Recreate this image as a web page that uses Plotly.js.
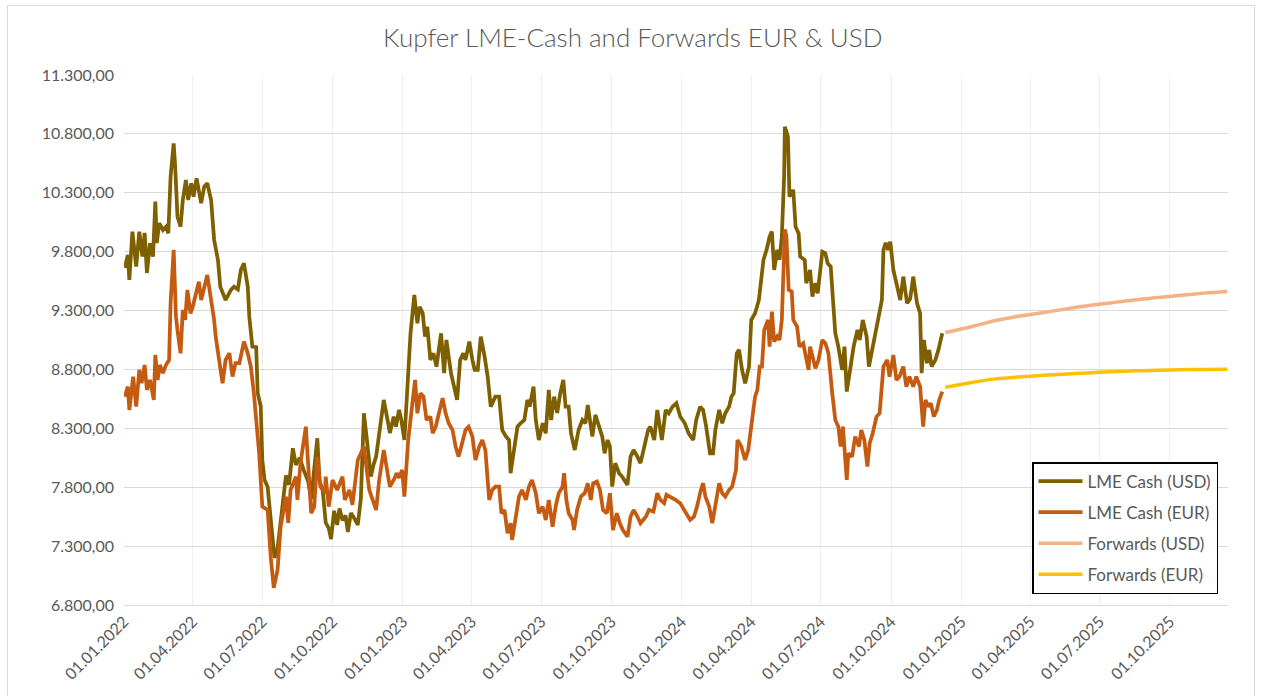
<!DOCTYPE html>
<html>
<head>
<meta charset="utf-8">
<script src="https://cdn.plot.ly/plotly-3.0.1.min.js"></script>
<style>
  html, body { margin: 0; padding: 0; background: #ffffff; }
  #frame { position: absolute; left: 7px; top: 5px; width: 1248px; height: 700px; border: 1px solid #d9d9d9; box-sizing: border-box; }
  #chart { position: absolute; left: 0; top: 0; width: 1263px; height: 696px; }
</style>
</head>
<body>
<div id="frame"></div>
<div id="chart"></div>
<script>
// ---- Data ----
// Day offsets are days since 01.01.2022
const usdDays = [1,5,7,11,16,20,24,27,30,34,38,41,43,46,51,55,58,61,65,67,70,74,77,81,84,88,91,95,101,105,109,114,118,123,126,133,140,144,149,153,157,162,164,168,173,175,179,181,184,188,190,194,197,201,208,212,216,221,225,230,235,241,245,249,253,256,260,264,268,271,275,279,282,286,290,293,297,302,306,310,314,318,323,327,330,335,340,345,348,353,356,360,363,367,371,375,380,384,387,391,394,397,401,405,409,415,419,422,428,432,436,440,444,447,452,456,459,463,467,472,476,480,486,491,495,500,504,506,510,515,519,524,528,531,536,539,543,548,552,556,559,563,567,571,575,578,582,585,590,595,600,604,607,613,617,622,626,629,633,636,639,643,648,652,659,663,667,672,676,680,686,689,694,698,701,704,709,713,718,723,728,734,739,745,749,754,758,762,767,771,774,779,783,787,792,795,798,802,805,809,813,818,821,826,831,837,841,845,848,851,855,858,861,864,865,869,871,876,879,883,885,891,893,898,901,905,908,914,918,921,925,929,931,935,940,943,946,951,955,960,963,967,972,975,979,983,988,992,994,997,1000,1003,1007,1012,1016,1020,1025,1029,1033,1038,1042,1044,1047,1051,1054,1057,1062,1066,1071];
const usdCash = [9662,9772,9560,9970,9673,9970,9758,9960,9619,9871,9758,10225,9874,10041,9984,10012,9956,10437,10720,10522,10097,10012,10239,10409,10239,10381,10267,10423,10211,10352,10381,10239,9899,9729,9503,9390,9475,9503,9480,9645,9701,9503,9248,8994,8990,8600,8484,8032,7862,7805,7666,7353,7200,7280,7700,7900,7820,8131,7990,8050,7950,7850,7700,7950,8216,7850,7780,7500,7450,7360,7600,7480,7620,7520,7560,7420,7580,7530,7480,7700,8428,8200,7890,8000,8060,8300,8541,8370,8260,8400,8314,8456,8370,8201,8711,9107,9432,9192,9333,9277,9079,9163,8881,8937,8824,9107,8768,9050,8768,8654,8541,8881,8937,8881,9036,8881,8796,8796,9079,8909,8739,8484,8569,8569,8286,8230,8201,7919,8088,8314,8343,8371,8541,8484,8654,8370,8201,8343,8258,8626,8370,8569,8430,8598,8711,8484,8484,8258,8116,8286,8371,8343,8498,8230,8414,8314,8230,8088,8201,8145,7805,8004,7919,7890,7820,8060,8116,8060,8004,8116,8286,8314,8201,8456,8314,8201,8456,8428,8484,8513,8400,8343,8258,8201,8371,8484,8456,8314,8088,8088,8286,8456,8343,8428,8484,8569,8598,8937,8966,8796,8683,8824,9220,9277,9390,9730,9815,9927,9970,9645,9815,9730,9927,10437,10861,10777,10267,10324,10012,9956,9758,9730,9532,9645,9418,9532,9447,9800,9786,9701,9673,9220,9107,8994,8796,8994,8612,8824,8994,9135,9050,9220,9079,8824,8966,9107,9277,9390,9815,9874,9815,9885,9645,9503,9390,9588,9362,9400,9588,9362,9277,8768,9050,8853,8966,8824,8881,8966,9107];

const eurDays = [1,5,7,12,16,20,23,27,30,34,39,41,44,47,51,55,59,61,65,68,70,74,77,80,83,87,90,94,98,101,105,109,114,118,120,125,129,133,138,142,146,151,157,162,166,170,173,177,181,188,192,196,201,205,212,215,218,225,227,231,238,241,245,249,253,257,263,264,268,273,279,286,289,295,299,306,314,321,330,334,340,345,348,353,357,360,364,367,372,376,381,384,388,392,396,401,404,408,412,417,421,425,430,434,438,443,447,451,456,460,465,469,473,478,482,486,491,494,498,502,506,508,513,517,521,526,530,534,539,543,548,552,556,561,565,569,574,576,579,582,587,589,593,598,603,607,611,614,619,623,627,632,636,640,645,649,653,659,663,667,672,676,683,687,693,698,702,707,710,715,722,728,735,741,746,750,755,758,761,766,770,774,779,783,787,792,796,801,803,808,813,817,821,824,826,829,832,835,838,843,845,848,851,855,858,861,865,867,870,874,876,881,884,889,892,896,898,902,905,909,914,918,922,927,931,935,938,941,946,948,953,957,962,965,969,973,976,980,985,989,994,999,1002,1007,1011,1015,1020,1024,1028,1033,1037,1042,1046,1049,1053,1056,1060,1064,1067,1071];
const eurCash = [8569,8654,8456,8739,8484,8796,8683,8838,8626,8711,8541,8923,8711,8838,8768,8838,8881,9362,9815,9248,9135,8937,9305,9220,9475,9277,9333,9447,9545,9390,9503,9602,9390,9220,9079,8881,8683,8881,8937,8739,8853,8853,9036,8937,8824,8598,8399,8080,7635,7607,7210,6945,7098,7465,7720,7497,7777,7890,7692,8004,8314,8004,7580,7635,8060,7805,7750,7890,7635,7862,7777,7890,7692,7777,7650,8032,8145,7777,7607,7862,8116,7919,7805,7862,7919,7880,7947,7720,8201,8428,8711,8428,8598,8569,8371,8400,8258,8314,8428,8556,8428,8343,8286,8145,8060,8201,8286,8314,8230,8032,8145,8201,8116,7692,7777,7805,7805,7579,7607,7409,7494,7353,7579,7720,7777,7692,7805,7862,7749,7579,7635,7522,7692,7465,7635,7749,7805,7919,7692,7579,7522,7437,7607,7720,7749,7834,7692,7834,7848,7777,7607,7579,7749,7437,7579,7494,7437,7380,7550,7607,7550,7494,7550,7607,7593,7749,7692,7664,7735,7720,7692,7664,7579,7522,7550,7635,7777,7834,7720,7635,7494,7664,7834,7749,7720,7777,7805,7947,8201,8145,8032,8116,8343,8513,8569,8626,8824,8824,9135,9220,8994,9291,9036,9079,9050,9220,9990,9930,9475,9460,9220,9163,8994,9022,8909,8796,8994,8881,8810,8881,9050,9022,8937,8598,8371,8314,8145,8314,7862,8088,8060,8230,8145,8286,8201,7975,8173,8258,8400,8428,8824,8881,8739,8923,8711,8739,8824,8654,8739,8654,8739,8654,8314,8541,8484,8513,8400,8456,8541,8612];

const fwdDates = ['2024-12-11','2025-01-15','2025-02-15','2025-03-15','2025-04-15','2025-05-15','2025-06-15','2025-07-15','2025-08-15','2025-09-15','2025-10-15','2025-11-15','2025-12-15'];
const fwdUsd = [9113,9165,9215,9250,9280,9310,9340,9365,9390,9410,9430,9448,9462];
const fwdEur = [8649,8690,8720,8735,8748,8760,8770,8780,8788,8793,8797,8800,8802];

const seriesNames = ['LME Cash (USD)', 'LME Cash (EUR)', 'Forwards (USD)', 'Forwards (EUR)'];
const titleText = 'Kupfer LME-Cash and Forwards EUR & USD';

// ---- Build ----
const base = Date.UTC(2022, 0, 1);
const toDate = d => new Date(base + d * 86400000).toISOString().slice(0, 10);

const colors = ['#7F6000', '#C55A11', '#F4B183', '#FFC000'];
const widths = [3.75, 3.75, 3.5, 3.5];
const FONT = 'Lato, "Open Sans", sans-serif';

const traces = [
  { x: usdDays.map(toDate), y: usdCash, name: seriesNames[0], legendgroup: 'a' },
  { x: eurDays.map(toDate), y: eurCash, name: seriesNames[1], legendgroup: 'b' },
  { x: fwdDates, y: fwdUsd, name: seriesNames[2], legendgroup: 'c' },
  { x: fwdDates, y: fwdEur, name: seriesNames[3], legendgroup: 'd' }
].map((t, i) => Object.assign(t, {
  type: 'scatter', mode: 'lines',
  line: { color: colors[i], width: widths[i], shape: i >= 2 ? 'spline' : 'linear' },
  hoverinfo: 'skip'
}));

const layout = {
  width: 1263, height: 696,
  margin: { l: 124, r: 35, t: 75, b: 91 },
  paper_bgcolor: 'rgba(0,0,0,0)',
  plot_bgcolor: '#ffffff',
  separators: ',.',
  font: { family: FONT, color: '#595959', size: 16 },
  title: {
    text: titleText,
    font: { family: FONT, size: 26, color: '#595959', weight: 300 },
    x: 0.501, xanchor: 'center', xref: 'container',
    y: 1 - 38 / 696, yanchor: 'middle', yref: 'container'
  },
  xaxis: {
    type: 'date',
    range: ['2022-01-01', '2025-12-16'],
    tick0: '2022-01-01', dtick: 'M3',
    tickformat: '%d.%m.%Y',
    tickangle: -45,
    showgrid: true, gridcolor: '#efefef', gridwidth: 1,
    showline: true, linecolor: '#d9d9d9', linewidth: 1,
    zeroline: false, ticks: '',
    tickfont: { family: FONT, size: 16, color: '#595959' }
  },
  yaxis: {
    range: [6800, 11300],
    tick0: 6800, dtick: 500,
    tickformat: ',.2f',
    showgrid: true, gridcolor: '#d9d9d9', gridwidth: 1,
    zeroline: false, showline: false, ticks: '',
    ticklabelstandoff: 9,
    tickfont: { family: FONT, size: 16, color: '#595959' }
  },
  showlegend: true,
  legend: {
    x: (1032 - 124) / 1104, xanchor: 'left',
    y: (605 - 462) / 530, yanchor: 'top',
    bgcolor: '#ffffff', bordercolor: '#000000', borderwidth: 1.5,
    traceorder: 'grouped', tracegroupgap: 6,
    font: { family: FONT, size: 17, color: '#595959' },
    itemwidth: 44
  }
};

Plotly.newPlot('chart', traces, layout, { staticPlot: true, displayModeBar: false });
</script>
</body>
</html>
